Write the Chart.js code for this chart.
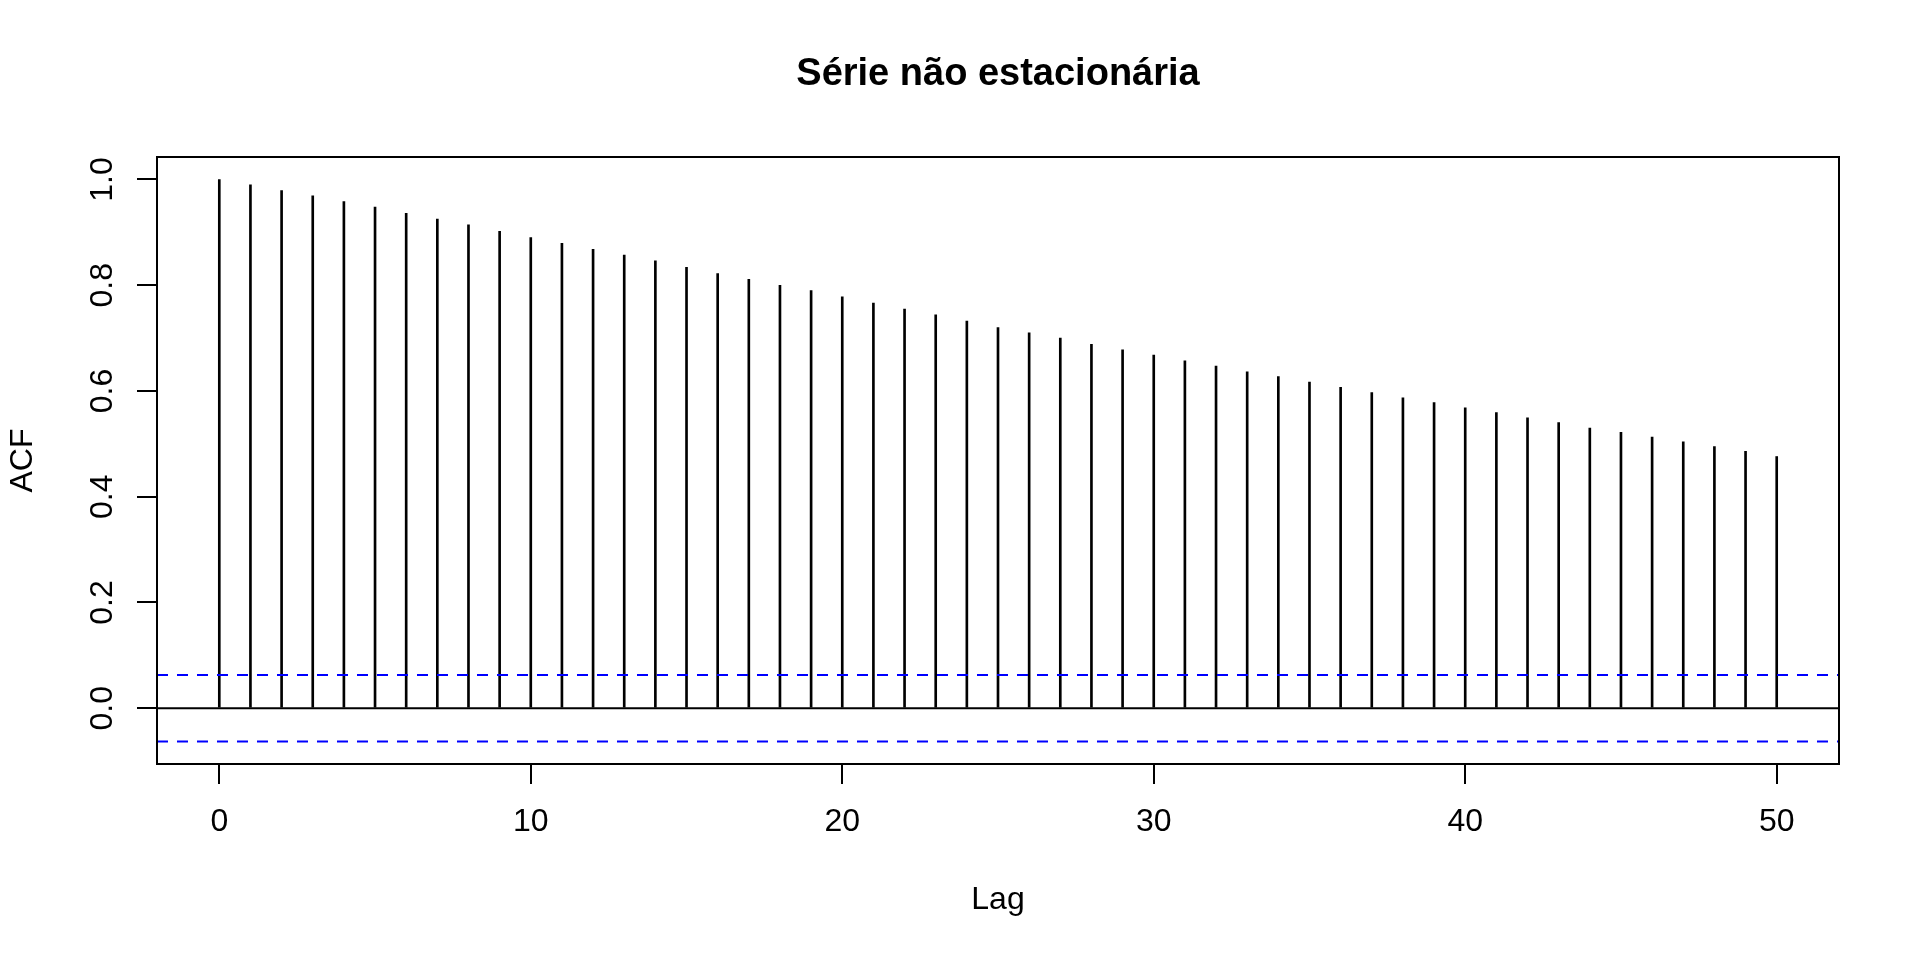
<!DOCTYPE html>
<html>
<head>
<meta charset="utf-8">
<script src="https://cdn.jsdelivr.net/npm/chart.js@4.4.1/dist/chart.umd.min.js"></script>
<style>
  html, body { margin: 0; padding: 0; background: #fff; }
  canvas { display: block; }
</style>
</head>
<body>
<canvas id="acfChart" width="1920" height="960"></canvas>
<script>
const lags = [0, 1, 2, 3, 4, 5, 6, 7, 8, 9, 10, 11, 12, 13, 14, 15, 16, 17, 18, 19, 20,
  21, 22, 23, 24, 25, 26, 27, 28, 29, 30, 31, 32, 33, 34, 35, 36, 37, 38, 39, 40,
  41, 42, 43, 44, 45, 46, 47, 48, 49, 50];
const acfValues = [1.000, 0.990, 0.979, 0.969, 0.958, 0.948, 0.936, 0.925, 0.914, 0.902,
  0.890, 0.879, 0.868, 0.857, 0.846, 0.834, 0.822, 0.811, 0.800, 0.790,
  0.778, 0.766, 0.755, 0.744, 0.732, 0.720, 0.710, 0.700, 0.688, 0.678,
  0.668, 0.657, 0.647, 0.636, 0.627, 0.617, 0.607, 0.597, 0.587, 0.578,
  0.568, 0.559, 0.549, 0.540, 0.530, 0.522, 0.513, 0.504, 0.495, 0.486, 0.476];
const ciBound = 0.063;
const xTicks = [0, 10, 20, 30, 40, 50];
const yTicks = [0, 0.2, 0.4, 0.6, 0.8, 1.0];
const yTickLabels = ['0.0', '0.2', '0.4', '0.6', '0.8', '1.0'];
const chartTitle = 'Série não estacionária';

const FONT = '"Liberation Sans", Arial, Helvetica, sans-serif';

// box around the plot, rotated y labels and the main title (R style)
const acfFrame = {
  id: 'acfFrame',
  afterDraw(chart) {
    const { ctx, chartArea: { top, left, right, width, height }, scales: { y } } = chart;
    ctx.save();
    ctx.strokeStyle = '#000';
    ctx.lineWidth = 2;
    ctx.strokeRect(left, top, width, height);

    ctx.fillStyle = '#000';
    ctx.font = '32px ' + FONT;
    ctx.textAlign = 'center';
    ctx.textBaseline = 'alphabetic';
    for (let i = 0; i < yTicks.length; i++) {
      ctx.save();
      ctx.translate(112, y.getPixelForValue(yTicks[i]));
      ctx.rotate(-Math.PI / 2);
      ctx.fillText(yTickLabels[i], 0, 0);
      ctx.restore();
    }

    ctx.font = 'bold 38px ' + FONT;
    ctx.fillText(chartTitle, (left + right) / 2, 85);
    ctx.restore();
  }
};

const hLine = (val, color, dash) => ({
  type: 'line',
  data: [{ x: -2, y: val }, { x: 52, y: val }],
  borderColor: color,
  borderWidth: 2,
  borderDash: dash,
  pointRadius: 0,
  order: 0
});

new Chart(document.getElementById('acfChart'), {
  type: 'bar',
  data: {
    datasets: [
      hLine(ciBound, '#0000ff', [11, 9]),
      hLine(-ciBound, '#0000ff', [11, 9]),
      hLine(0, '#000000', []),
      {
        type: 'bar',
        data: lags.map((l, i) => ({ x: l, y: acfValues[i] })),
        backgroundColor: '#000',
        borderWidth: 0,
        barThickness: 2,
        order: 1
      }
    ]
  },
  options: {
    responsive: false,
    animation: false,
    layout: { padding: { top: 157, right: 81, left: 0, bottom: 0 } },
    scales: {
      x: {
        type: 'linear',
        min: -2,
        max: 52,
        offset: false,
        afterBuildTicks: s => { s.ticks = xTicks.map(v => ({ value: v })); },
        afterFit: s => { s.height = 196; },
        grid: { drawOnChartArea: false, offset: false, color: '#000', lineWidth: 2, tickLength: 20 },
        border: { display: false },
        ticks: { color: '#000', font: { size: 32, family: FONT }, padding: 19, maxRotation: 0, autoSkip: false },
        title: { display: true, text: 'Lag', color: '#000', font: { size: 32, family: FONT }, padding: { top: 0, bottom: 41 } }
      },
      y: {
        min: -0.1055,
        max: 1.0425,
        afterBuildTicks: s => { s.ticks = yTicks.map(v => ({ value: v })); },
        afterFit: s => { s.width = 157; },
        grid: { drawOnChartArea: false, color: '#000', lineWidth: 2, tickLength: 20 },
        border: { display: false },
        ticks: { display: false },
        title: { display: true, text: 'ACF', color: '#000', font: { size: 32, family: FONT }, padding: { top: 4, bottom: 0 } }
      }
    },
    plugins: {
      legend: { display: false },
      tooltip: { enabled: false }
    }
  },
  plugins: [acfFrame]
});
</script>
</body>
</html>
